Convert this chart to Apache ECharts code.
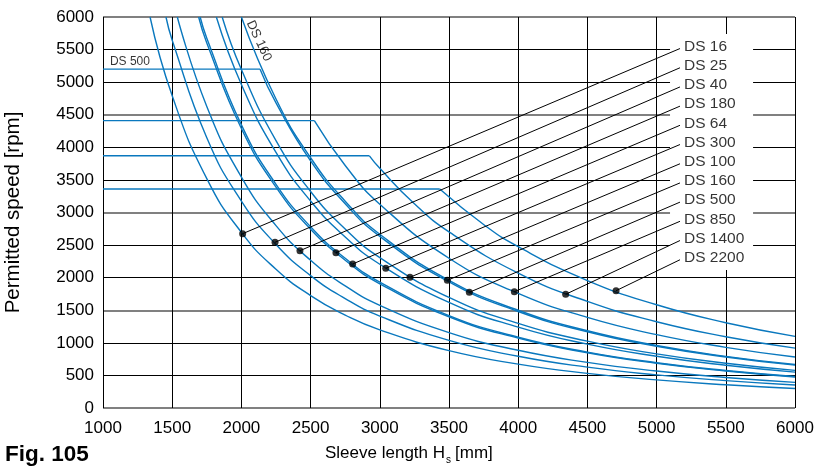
<!DOCTYPE html>
<html><head><meta charset="utf-8">
<script src="https://cdn.jsdelivr.net/npm/echarts@6/dist/echarts.min.js"></script>
<style>html,body{margin:0;padding:0;background:#fff}#c{width:816px;height:468px}</style>
</head><body><div id="c"></div>
<script>
// ---- data ----
const curveLabels = ['DS 16','DS 25','DS 40','DS 180','DS 64','DS 300','DS 100','DS 160','DS 500','DS 850','DS 1400','DS 2200'];

const ds16  = [[1340,6000],[1500,4791],[1750,3520],[2000,2695],[2250,2129],[2500,1725],[2750,1425],[3000,1198],[3500,880],[4000,674],[4500,532],[5000,431],[5500,356],[6000,299]];
const ds25  = [[1455,6000],[1500,5644],[1750,4147],[2000,3175],[2250,2509],[2500,2032],[2750,1679],[3000,1411],[3500,1037],[4000,794],[4500,627],[5000,508],[5500,420],[6000,353]];
const ds40  = [[1537,6000],[1750,4627],[2000,3543],[2250,2799],[2500,2267],[2750,1874],[3000,1574],[3500,1157],[4000,886],[4500,700],[5000,567],[5500,468],[6000,394]];
const ds180 = [[1691,6000],[1750,5600],[2000,4288],[2250,3388],[2500,2744],[2750,2268],[3000,1906],[3500,1400],[4000,1072],[4500,847],[5000,686],[5500,567],[6000,476]];
const ds64  = [[1702,6000],[1750,5675],[2000,4345],[2250,3433],[2500,2781],[2750,2298],[3000,1931],[3500,1419],[4000,1086],[4500,858],[5000,695],[5500,575],[6000,483]];
const ds300 = [[1819,6000],[2000,4963],[2250,3921],[2500,3176],[2750,2625],[3000,2206],[3500,1620],[4000,1241],[4500,980],[5000,794],[5500,656],[6000,551]];
const ds100 = [[1861,6000],[2000,5193],[2250,4103],[2500,3323],[2750,2746],[3000,2308],[3500,1696],[4000,1298],[4500,1026],[5000,831],[5500,687],[6000,577]];
const ds160 = [[2000,6000],[2250,4741],[2500,3840],[2750,3174],[3000,2667],[3500,1959],[4000,1500],[4500,1185],[5000,960],[5500,793],[6000,667]];
const ds500 = [[2135,5200],[2250,4681],[2500,3792],[2750,3134],[3000,2633],[3500,1935],[4000,1481],[4500,1170],[5000,948],[5500,783],[6000,658]];
const ds850 = [[2527,4410],[2750,3722],[3000,3128],[3500,2298],[4000,1759],[4500,1390],[5000,1126],[5500,931],[6000,782]];
const ds1400= [[2925,3870],[3000,3678],[3250,3134],[3500,2702],[4000,2069],[4500,1635],[5000,1324],[5500,1094],[6000,919]];
const ds2200= [[3433,3360],[3750,2816],[4000,2475],[4500,1956],[5000,1584],[5500,1309],[6000,1100]];
const curves = [ds16,ds25,ds40,ds180,ds64,ds300,ds100,ds160,ds500,ds850,ds1400,ds2200];

// maximum speed plateaus (start at H = 1000)
const capSpeed = [null,null,null,null,null,null,null,null,5200,4410,3870,3360];

// marker dots on curves
const dotH = [2009,2243,2423,2683,2804,3043,3218,3488,3647,3972,4343,4707];
const dotN = [2675,2543,2414,2383,2210,2144,2006,1959,1775,1785,1745,1800];
// label anchors on the right
const labelH = 5169;
const labelN = [5516,5221,4927,4632,4338,4043,3748,3454,3159,2865,2570,2275];
// white box behind labels (data coords)
const boxH = [5097,5697];
const boxN = [5739,2118];
// inline curve annotations
const ds500Text = {text:'DS 500', h:1050, n:5309};
const ds160Text = {text:'DS 160', h:2127, n:5635};

const BLUE = '#0a78be';
const FONT = 'Liberation Sans, Arial, Helvetica, sans-serif';

const series = [];
series.push({type:'line', data:[], z:1, silent:true,
  markArea:{silent:true, itemStyle:{color:'#fff'}, data:[[{coord:[boxH[0],boxN[0]]},{coord:[boxH[1],boxN[1]]}]]}});
curves.forEach((c,i)=>{
  series.push({type:'line', data:c, smooth:true, symbol:'none', z:2,
    lineStyle:{color:BLUE, width:1.4}});
  if (capSpeed[i] !== null) {
    series.push({type:'line', data:[[1000,capSpeed[i]],[c[0][0],capSpeed[i]]], symbol:'none', z:2,
      lineStyle:{color:BLUE, width:1.4}});
  }
  series.push({type:'line', data:[[dotH[i],dotN[i]],[labelH,labelN[i]]], symbol:'none', z:3,
    lineStyle:{color:'#000', width:1}});
});
series.push({type:'scatter', z:4, symbolSize:7, itemStyle:{color:'#000'},
  data: dotH.map((h,i)=>[h,dotN[i]])});
series.push({type:'scatter', z:5, symbolSize:0,
  data: labelN.map((n,i)=>({value:[labelH,n], name:curveLabels[i]})),
  label:{show:true, position:'right', distance:4, offset:[0,-2], formatter:p=>p.name,
    color:'#000', fontSize:15.5, fontFamily:FONT}});
series.push({type:'scatter', z:5, symbolSize:0,
  data:[{value:[ds500Text.h, ds500Text.n], name:ds500Text.text}],
  label:{show:true, position:'right', distance:0, formatter:p=>p.name, color:'#000', fontSize:12, fontFamily:FONT}});
series.push({type:'scatter', z:5, symbolSize:0,
  data:[{value:[ds160Text.h, ds160Text.n], name:ds160Text.text}],
  label:{show:true, position:'inside', rotate:-65, formatter:p=>p.name, color:'#000', fontSize:13, fontFamily:FONT}});

const chart = echarts.init(document.getElementById('c'), null, {renderer:'canvas'});
chart.setOption({
  animation:false,
  backgroundColor:'#fff',
  grid:{left:103, right:21, top:17, bottom:60, containLabel:false, outerBoundsMode:'none'},
  xAxis:{type:'value', min:1000, max:6000, interval:500,
    axisLine:{show:false}, axisTick:{show:false},
    axisLabel:{color:'#000', fontSize:17, fontFamily:FONT, margin:12, formatter:v=>String(v)},
    splitLine:{show:true, lineStyle:{color:'#000', width:1}}},
  yAxis:[{type:'value', min:0, max:6000, interval:500,
    axisLine:{show:false}, axisTick:{show:false},
    axisLabel:{color:'#000', fontSize:17, fontFamily:FONT, margin:9, formatter:v=>String(v)},
    name:'Permitted speed [rpm]', nameLocation:'middle', nameGap:79,
    nameTextStyle:{color:'#000', fontSize:20.5, fontFamily:FONT},
    splitLine:{show:true, lineStyle:{color:['rgba(0,0,0,0)','#000','#000'], width:1}}},
   {type:'value', min:0, max:6000, interval:1500, position:'left',
    axisLine:{show:false}, axisTick:{show:false}, axisLabel:{show:false},
    splitLine:{show:true, lineStyle:{color:'#808080', width:2}}}],
  graphic:[
    {type:'text', left:325, top:445, style:{text:'Sleeve length H', fill:'#000', font:'17px '+FONT}},
    {type:'text', left:446, top:455, style:{text:'s', fill:'#000', font:'10px '+FONT}},
    {type:'text', left:455, top:445, style:{text:'[mm]', fill:'#000', font:'17px '+FONT}},
    {type:'text', left:5, top:443, style:{text:'Fig. 105', fill:'#000', font:'bold 22.5px '+FONT}}
  ],
  series: series
});
</script></body></html>
